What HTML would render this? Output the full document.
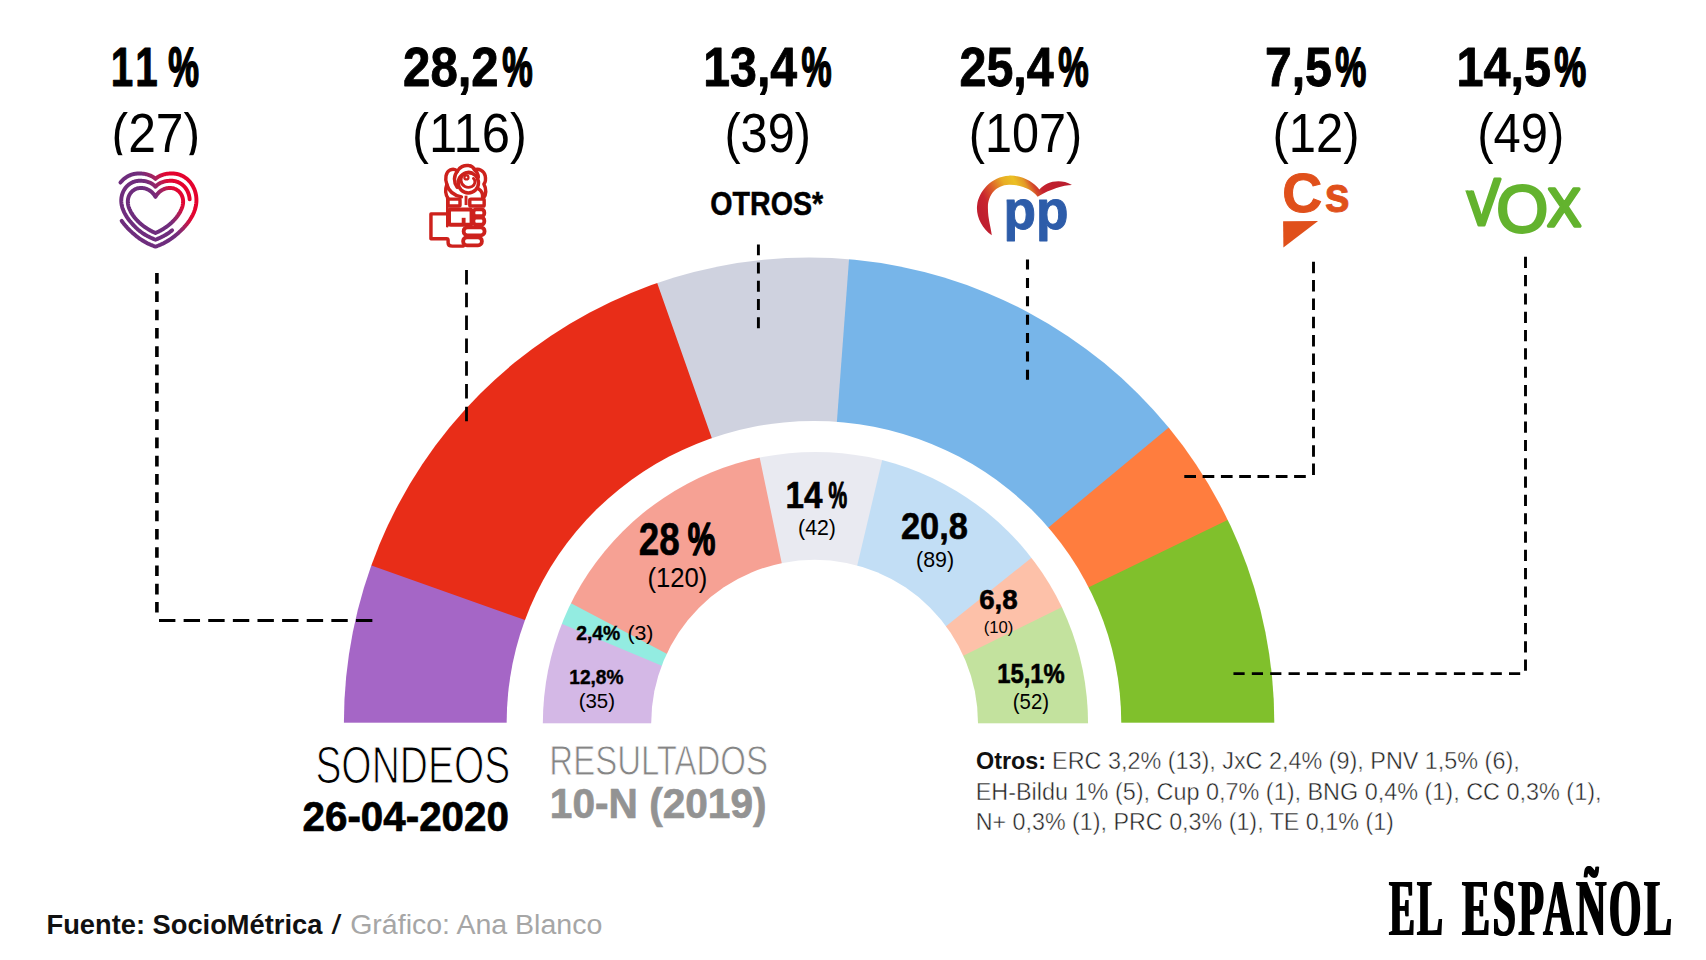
<!DOCTYPE html>
<html lang="es"><head><meta charset="utf-8"><title>Sondeo SocioMétrica 26-04-2020</title>
<style>html,body{margin:0;padding:0;background:#fff}body{width:1706px;height:960px;overflow:hidden}svg{display:block}text{white-space:pre}</style>
</head><body>
<svg width="1706" height="960" viewBox="0 0 1706 960">
<rect width="1706" height="960" fill="#fff"/>
<defs>
<clipPath id="co"><rect x="0" y="0" width="1706" height="722.7"/></clipPath>
<mask id="cc" maskUnits="userSpaceOnUse" x="0" y="0" width="1706" height="960"><circle cx="809.1" cy="722.7" r="465.2" fill="#fff"/></mask>
<clipPath id="ci"><rect x="0" y="0" width="1706" height="723.3"/></clipPath>
<mask id="ce" maskUnits="userSpaceOnUse" x="0" y="0" width="1706" height="960"><ellipse cx="815.45" cy="723.3" rx="272.6" ry="271.4" fill="#fff"/></mask>
<linearGradient id="gh" x1="0" y1="0" x2="1" y2="0"><stop offset="0" stop-color="#6d2c80"/><stop offset="0.42" stop-color="#7a2d7c"/><stop offset="0.62" stop-color="#c0184e"/><stop offset="1" stop-color="#e4032e"/></linearGradient>
<linearGradient id="gp" gradientUnits="userSpaceOnUse" x1="976" y1="210" x2="1072" y2="185"><stop offset="0" stop-color="#c5202f"/><stop offset="0.16" stop-color="#d8452a"/><stop offset="0.36" stop-color="#e8a526"/><stop offset="0.50" stop-color="#e9bb25"/><stop offset="0.62" stop-color="#e08a28"/><stop offset="0.72" stop-color="#d2402c"/><stop offset="1" stop-color="#c01f30"/></linearGradient>
</defs>
<g><g mask="url(#cc)">
<rect x="300" y="200" width="1100" height="600" fill="#A566C6"/>
<polygon points="609.8,650.1 239.7,518.8 124.3,393.1 162.5,323.3 207.8,257.9 259.6,197.6 317.5,143.1 380.8,94.9 448.8,53.5 520.7,19.5 595.8,-6.8 673.2,-25.1 752.1,-35.2 831.6,-37.0 910.9,-30.4 989.1,-15.7 1065.3,7.2 1138.7,37.9 1208.5,76.1 1273.9,121.4 1334.2,173.2 1388.7,231.1 1436.9,294.4 1478.3,362.4 1512.3,434.3 1538.6,509.4 1556.9,586.8 1567.0,665.7 1569.1,722.7 1569.1,782.7 609.8,782.7" fill="#E82D18"/>
<polygon points="741.5,522.4 610.4,150.2 636.3,-17.4 714.6,-31.4 794.0,-37.1 873.5,-34.6 952.3,-23.7 1029.5,-4.6 1104.3,22.4 1175.9,57.1 1243.5,99.1 1306.3,147.9 1363.7,203.0 1414.9,263.8 1459.6,329.7 1497.1,399.8 1527.1,473.5 1549.2,549.9 1563.2,628.2 1568.9,707.6 1569.1,722.7 1569.1,782.7 741.5,782.7" fill="#CFD2DF"/>
<polygon points="830.2,511.4 859.5,119.1 951.1,-23.9 1028.4,-5.0 1103.3,21.9 1174.9,56.5 1242.5,98.4 1305.4,147.1 1362.9,202.2 1414.2,262.9 1459.0,328.7 1496.6,398.8 1526.7,472.4 1548.9,548.8 1563.1,627.1 1568.9,706.4 1569.1,722.7 1569.1,782.7 830.2,782.7" fill="#77B5E9"/>
<polygon points="979.2,585.0 1276.4,338.0 1443.2,303.7 1483.5,372.3 1516.4,444.7 1541.6,520.1 1558.8,597.8 1567.7,676.8 1569.1,722.7 1569.1,782.7 979.2,782.7" fill="#FF7D3E"/>
<polygon points="1007.8,626.4 1353.5,459.0 1524.0,464.7 1547.0,540.8 1562.0,618.9 1568.7,698.2 1569.1,722.7 1569.1,782.7 1007.8,782.7" fill="#80C02C"/>
</g>
<ellipse cx="813.95" cy="722.7" rx="307.3" ry="301.7" fill="#fff"/>
<rect x="300" y="722.7" width="1100" height="100" fill="#fff"/>
</g>
<g><g mask="url(#ce)">
<rect x="500" y="400" width="640" height="400" fill="#D4B8E6"/>
<polygon points="711.9,686.7 488.3,593.1 407.8,509.3 432.4,467.9 461.2,429.3 493.9,393.9 530.1,362.2 569.4,334.4 611.4,310.8 655.6,291.8 701.6,277.5 748.8,268.1 796.8,263.7 844.9,264.3 892.7,269.9 939.7,280.5 985.3,296.0 1029.0,316.1 1070.4,340.7 1109.0,369.5 1144.4,402.2 1176.1,438.4 1203.9,477.7 1227.5,519.7 1246.5,563.9 1260.8,609.9 1270.2,657.1 1274.6,705.1 1275.0,723.3 1275.0,783.3 711.9,783.3" fill="#93ECE1"/>
<polygon points="715.5,679.4 499.8,565.8 427.2,475.9 455.2,436.7 487.1,400.6 522.7,368.1 561.4,339.5 602.9,315.1 646.7,295.2 692.4,279.9 739.4,269.6 787.2,264.1 835.4,263.8 883.3,268.4 930.5,278.0 976.4,292.5 1020.5,311.8 1062.4,335.5 1101.6,363.5 1137.7,395.4 1170.2,431.0 1198.8,469.7 1223.2,511.2 1243.1,555.0 1258.4,600.7 1268.7,647.7 1274.2,695.5 1275.0,723.3 1275.0,783.3 715.5,783.3" fill="#F6A194"/>
<polygon points="792.8,615.9 743.3,379.5 768.7,265.6 816.8,263.3 864.9,266.0 912.4,273.7 958.9,286.4 1003.7,303.8 1046.6,325.8 1086.8,352.2 1124.1,382.7 1158.1,416.8 1188.2,454.4 1214.3,494.9 1236.0,537.9 1253.0,582.9 1265.3,629.4 1272.7,677.0 1275.0,723.3 1275.0,783.3 792.8,783.3" fill="#E9EAF1"/>
<polygon points="844.8,618.1 900.7,381.8 973.0,291.3 1017.3,310.2 1059.4,333.6 1098.8,361.3 1135.1,392.9 1167.8,428.2 1196.8,466.7 1221.5,508.0 1241.8,551.7 1257.4,597.2 1268.1,644.1 1273.9,691.9 1275.0,723.3 1275.0,783.3 844.8,783.3" fill="#C2DEF5"/>
<polygon points="903.9,660.1 1093.9,507.6 1206.3,481.5 1229.4,523.7 1248.0,568.1 1261.9,614.2 1270.8,661.5 1274.8,709.5 1275.0,723.3 1275.0,783.3 903.9,783.3" fill="#FDC1A9"/>
<polygon points="915.7,679.2 1131.5,572.7 1248.8,570.2 1262.4,616.3 1271.1,663.7 1274.9,711.7 1275.0,723.3 1275.0,783.3 915.7,783.3" fill="#C3E29E"/>
</g>
<circle cx="814.6" cy="723.2" r="163.4" fill="#fff"/>
<rect x="300" y="723.3" width="1100" height="100" fill="#fff"/>
</g>
<g>
<line x1="156.90" y1="273.10" x2="156.90" y2="612.60" stroke="#000" stroke-width="3.6" stroke-dasharray="10.70 7.57"/>
<line x1="159.00" y1="620.50" x2="372.40" y2="620.50" stroke="#000" stroke-width="3.2" stroke-dasharray="16.40 8.22"/>
<line x1="466.50" y1="270.00" x2="466.50" y2="421.30" stroke="#000" stroke-width="2.8" stroke-dasharray="14.50 8.30"/>
<line x1="758.40" y1="244.40" x2="758.40" y2="328.20" stroke="#000" stroke-width="2.9" stroke-dasharray="10.90 7.32"/>
<line x1="1027.50" y1="259.50" x2="1027.50" y2="379.80" stroke="#000" stroke-width="3.1" stroke-dasharray="10.00 8.38"/>
<line x1="1313.50" y1="261.70" x2="1313.50" y2="475.00" stroke="#000" stroke-width="2.9" stroke-dasharray="11.50 6.85"/>
<line x1="1305.80" y1="476.50" x2="1184.30" y2="476.50" stroke="#000" stroke-width="2.9" stroke-dasharray="11.70 6.60"/>
<line x1="1525.50" y1="256.80" x2="1525.50" y2="670.90" stroke="#000" stroke-width="2.9" stroke-dasharray="11.20 7.11"/>
<line x1="1520.20" y1="673.60" x2="1233.40" y2="673.60" stroke="#000" stroke-width="2.9" stroke-dasharray="11.20 7.17"/>
</g>
<g>
<text transform="translate(110.67 86.00) scale(0.7276 1)" font-family="'Liberation Sans', sans-serif" font-size="55.61" font-weight="bold" fill="#000" stroke="#000" stroke-width="0.9" stroke-linejoin="round" letter-spacing="6.0">11</text>
<text transform="translate(168.36 86.00) scale(0.6215 1)" font-family="'Liberation Sans', sans-serif" font-size="55.61" font-weight="bold" fill="#000" stroke="#000" stroke-width="1.8" stroke-linejoin="round">%</text>
<text transform="translate(111.56 152.10) scale(0.8961 1)" font-family="'Liberation Sans', sans-serif" font-size="55.61" fill="#000">(27)</text>
<text transform="translate(403.06 86.00) scale(0.8838 1)" font-family="'Liberation Sans', sans-serif" font-size="55.61" font-weight="bold" fill="#000" stroke="#000" stroke-width="0.9" stroke-linejoin="round">28,2</text>
<text transform="translate(502.27 86.00) scale(0.6152 1)" font-family="'Liberation Sans', sans-serif" font-size="55.61" font-weight="bold" fill="#000" stroke="#000" stroke-width="1.8" stroke-linejoin="round">%</text>
<text transform="translate(412.12 152.10) scale(0.9126 1)" font-family="'Liberation Sans', sans-serif" font-size="55.61" fill="#000">(116)</text>
<text transform="translate(703.28 86.00) scale(0.8677 1)" font-family="'Liberation Sans', sans-serif" font-size="55.61" font-weight="bold" fill="#000" stroke="#000" stroke-width="0.9" stroke-linejoin="round">13,4</text>
<text transform="translate(801.57 86.00) scale(0.6089 1)" font-family="'Liberation Sans', sans-serif" font-size="55.61" font-weight="bold" fill="#000" stroke="#000" stroke-width="1.8" stroke-linejoin="round">%</text>
<text transform="translate(724.42 152.10) scale(0.8747 1)" font-family="'Liberation Sans', sans-serif" font-size="55.61" fill="#000">(39)</text>
<text transform="translate(959.59 86.00) scale(0.8695 1)" font-family="'Liberation Sans', sans-serif" font-size="55.61" font-weight="bold" fill="#000" stroke="#000" stroke-width="0.9" stroke-linejoin="round">25,4</text>
<text transform="translate(1058.37 86.00) scale(0.6152 1)" font-family="'Liberation Sans', sans-serif" font-size="55.61" font-weight="bold" fill="#000" stroke="#000" stroke-width="1.8" stroke-linejoin="round">%</text>
<text transform="translate(968.72 152.10) scale(0.8743 1)" font-family="'Liberation Sans', sans-serif" font-size="55.61" fill="#000">(107)</text>
<text transform="translate(1264.89 86.00) scale(0.8668 1)" font-family="'Liberation Sans', sans-serif" font-size="55.61" font-weight="bold" fill="#000" stroke="#000" stroke-width="0.9" stroke-linejoin="round">7,5</text>
<text transform="translate(1335.25 86.00) scale(0.6278 1)" font-family="'Liberation Sans', sans-serif" font-size="55.61" font-weight="bold" fill="#000" stroke="#000" stroke-width="1.8" stroke-linejoin="round">%</text>
<text transform="translate(1272.50 152.10) scale(0.8811 1)" font-family="'Liberation Sans', sans-serif" font-size="55.61" fill="#000">(12)</text>
<text transform="translate(1456.46 86.00) scale(0.8736 1)" font-family="'Liberation Sans', sans-serif" font-size="55.61" font-weight="bold" fill="#000" stroke="#000" stroke-width="0.9" stroke-linejoin="round">14,5</text>
<text transform="translate(1554.24 86.00) scale(0.6466 1)" font-family="'Liberation Sans', sans-serif" font-size="55.61" font-weight="bold" fill="#000" stroke="#000" stroke-width="1.8" stroke-linejoin="round">%</text>
<text transform="translate(1477.20 152.10) scale(0.8811 1)" font-family="'Liberation Sans', sans-serif" font-size="55.61" fill="#000">(49)</text>
<text transform="translate(710.31 214.80) scale(0.8452 1)" font-family="'Liberation Sans', sans-serif" font-size="33.85" font-weight="bold" fill="#000" stroke="#000" stroke-width="0.5">OTROS*</text>
</g>
<rect x="100" y="155.2" width="120" height="14" fill="#fff"/>
<g>
<text transform="translate(638.65 554.50) scale(0.7896 1)" font-family="'Liberation Sans', sans-serif" font-size="46.65" font-weight="bold" fill="#000" stroke="#000" stroke-width="0.6" stroke-linejoin="round">28</text>
<text transform="translate(687.71 554.50) scale(0.6660 1)" font-family="'Liberation Sans', sans-serif" font-size="46.65" font-weight="bold" fill="#000" stroke="#000" stroke-width="1.5" stroke-linejoin="round">%</text>
<text transform="translate(647.50 586.50) scale(0.9117 1)" font-family="'Liberation Sans', sans-serif" font-size="28.16" fill="#000">(120)</text>
<text transform="translate(785.52 507.50) scale(0.8919 1)" font-family="'Liberation Sans', sans-serif" font-size="37.26" font-weight="bold" fill="#000" stroke="#000" stroke-width="0.6" stroke-linejoin="round">14</text>
<text transform="translate(828.47 507.50) scale(0.5621 1)" font-family="'Liberation Sans', sans-serif" font-size="37.26" font-weight="bold" fill="#000" stroke="#000" stroke-width="1.2" stroke-linejoin="round">%</text>
<text transform="translate(798.10 534.70) scale(0.9795 1)" font-family="'Liberation Sans', sans-serif" font-size="21.76" fill="#000">(42)</text>
<text transform="translate(900.93 538.75) scale(0.9390 1)" font-family="'Liberation Sans', sans-serif" font-size="36.62" font-weight="bold" fill="#000" stroke="#000" stroke-width="0.6" stroke-linejoin="round">20,8</text>
<text transform="translate(916.00 567.00) scale(1.0047 1)" font-family="'Liberation Sans', sans-serif" font-size="21.33" fill="#000">(89)</text>
<text transform="translate(979.13 608.75) scale(0.9751 1)" font-family="'Liberation Sans', sans-serif" font-size="28.44" font-weight="bold" fill="#000" stroke="#000" stroke-width="0.6" stroke-linejoin="round">6,8</text>
<text transform="translate(983.72 632.50) scale(0.9767 1)" font-family="'Liberation Sans', sans-serif" font-size="17.07" fill="#000">(10)</text>
<text transform="translate(997.26 683.00) scale(0.8379 1)" font-family="'Liberation Sans', sans-serif" font-size="28.44" font-weight="bold" fill="#000" stroke="#000" stroke-width="0.6" stroke-linejoin="round">15,1%</text>
<text transform="translate(1012.79 709.25) scale(0.9250 1)" font-family="'Liberation Sans', sans-serif" font-size="22.04" fill="#000">(52)</text>
<text transform="translate(576.19 639.60) scale(0.9666 1)" font-family="'Liberation Sans', sans-serif" font-size="20.05" font-weight="bold" fill="#000" stroke="#000" stroke-width="0.4">2,4%</text>
<text transform="translate(627.40 640.00) scale(1.0728 1)" font-family="'Liberation Sans', sans-serif" font-size="19.91" fill="#000">(3)</text>
<text transform="translate(569.31 683.90) scale(0.9804 1)" font-family="'Liberation Sans', sans-serif" font-size="19.48" font-weight="bold" fill="#000" stroke="#000" stroke-width="0.4">12,8%</text>
<text transform="translate(578.64 708.30) scale(1.0213 1)" font-family="'Liberation Sans', sans-serif" font-size="20.05" fill="#000">(35)</text>
</g>
<g>
<text transform="translate(315.38 783.00) scale(0.7568 1)" font-family="'Liberation Sans', sans-serif" font-size="51.48" fill="#000" stroke="#fff" stroke-width="1.1" vector-effect="non-scaling-stroke">SONDEOS</text>
<text transform="translate(302.54 830.50) scale(0.9655 1)" font-family="'Liberation Sans', sans-serif" font-size="41.81" font-weight="bold" fill="#000" stroke="#000" stroke-width="0.7">26-04-2020</text>
<text transform="translate(549.32 774.90) scale(0.7784 1)" font-family="'Liberation Sans', sans-serif" font-size="42.38" fill="#858585" stroke="#fff" stroke-width="0.8" vector-effect="non-scaling-stroke">RESULTADOS</text>
<text transform="translate(549.86 818.30) scale(0.9363 1)" font-family="'Liberation Sans', sans-serif" font-size="43.38" font-weight="bold" fill="#939393" stroke="#939393" stroke-width="0.7">10-N (2019)</text>
</g>
<g>
<text transform="translate(976.07 768.60) scale(0.9604 1)" font-family="'Liberation Sans', sans-serif" font-size="24.32" font-weight="bold" fill="#111">Otros:</text>
<text transform="translate(1052.07 768.60) scale(0.9616 1)" font-family="'Liberation Sans', sans-serif" font-size="24.32" fill="#222" stroke="#fff" stroke-width="0.45" vector-effect="non-scaling-stroke">ERC 3,2% (13), JxC 2,4% (9), PNV 1,5% (6),</text>
<text transform="translate(975.67 799.90) scale(0.9860 1)" font-family="'Liberation Sans', sans-serif" font-size="23.75" fill="#222" stroke="#fff" stroke-width="0.45" vector-effect="non-scaling-stroke">EH-Bildu 1% (5), Cup 0,7% (1), BNG 0,4% (1), CC 0,3% (1),</text>
<text transform="translate(975.68 829.60) scale(0.9806 1)" font-family="'Liberation Sans', sans-serif" font-size="23.75" fill="#222" stroke="#fff" stroke-width="0.45" vector-effect="non-scaling-stroke">N+ 0,3% (1), PRC 0,3% (1), TE 0,1% (1)</text>
</g>
<g>
<text transform="translate(46.49 934.00) scale(0.9940 1)" font-family="'Liberation Sans', sans-serif" font-size="27.45" font-weight="bold" fill="#111">Fuente: SocioMétrica</text>
<text transform="translate(331.60 934.00) scale(1.2953 1)" font-family="'Liberation Sans', sans-serif" font-size="27.45" fill="#111">/</text>
<text transform="translate(350.16 934.20) scale(1.0294 1)" font-family="'Liberation Sans', sans-serif" font-size="27.73" fill="#a6a6a6">Gráfico: Ana Blanco</text>
<g id="logo">
<text transform="translate(1389.10 935.00) scale(0.4818 1)" font-family="'Liberation Serif', serif" font-size="80.00" font-weight="bold" fill="#000" letter-spacing="5.0">EL</text>
<text transform="translate(1462.15 935.00) scale(0.5220 1)" font-family="'Liberation Serif', serif" font-size="80.00" font-weight="bold" fill="#000" letter-spacing="5.0">ESPAÑOL</text>
</g>
<use href="#logo" x="0.9"/><use href="#logo" x="-0.9"/>
</g>
<g transform="translate(110 165) scale(0.09375)" fill="none" stroke="url(#gh2)" stroke-width="42" stroke-linecap="round" stroke-linejoin="round">
<defs><linearGradient id="gh2" gradientUnits="userSpaceOnUse" x1="200" y1="0" x2="494" y2="-176.5"><stop offset="0" stop-color="#6e2d7d"/><stop offset="0.2" stop-color="#752c7b"/><stop offset="0.5" stop-color="#a8215c"/><stop offset="0.78" stop-color="#de0a36"/><stop offset="1" stop-color="#e4032e"/></linearGradient></defs>
<path d="M485.0,340.0 L481.1,333.2 L477.0,326.6 L472.6,320.1 L468.0,313.9 L463.1,307.8 L458.0,302.0 L452.6,296.3 L447.0,290.9 L441.2,285.8 L435.2,280.9 L429.0,276.2 L422.5,271.9 L415.8,267.8 L409.0,264.0 L401.9,260.6 L394.6,257.4 L387.2,254.6 L379.5,252.1 L371.7,250.0 L363.7,248.2 L355.5,246.8 L347.2,245.8 L338.7,245.2 L330.0,245.0 L320.1,245.3 L310.4,246.3 L301.0,247.9 L291.9,250.2 L283.0,253.0 L274.4,256.4 L266.1,260.3 L258.1,264.8 L250.5,269.8 L243.3,275.2 L236.5,281.1 L230.0,287.5 L224.0,294.3 L218.4,301.4 L213.2,309.0 L208.5,316.9 L204.3,325.1 L200.6,333.6 L197.5,342.4 L194.8,351.5 L192.7,360.8 L191.2,370.3 L190.3,380.1 L190.0,390.0 L190.3,400.0 L191.2,410.2 L192.7,420.4 L194.8,430.7 L197.5,441.0 L200.6,451.4 L204.3,461.8 L208.5,472.2 L213.2,482.6 L218.4,493.0 L224.0,503.4 L230.0,513.8 L236.5,524.0 L243.3,534.3 L250.5,544.4 L258.1,554.4 L266.1,564.4 L274.4,574.2 L283.0,583.9 L291.9,593.5 L301.0,602.9 L310.4,612.1 L320.1,621.1 L330.0,630.0 L336.3,635.2 L342.7,640.3 L349.2,645.4 L355.7,650.3 L362.3,655.2 L369.0,659.9 L375.7,664.6 L382.4,669.1 L389.2,673.6 L395.9,677.9 L402.6,682.1 L409.4,686.2 L416.1,690.3 L422.7,694.1 L429.4,697.9 L435.9,701.6 L442.4,705.1 L448.8,708.5 L455.1,711.7 L461.4,714.9 L467.5,717.9 L473.5,720.7 L479.3,723.4 L485.0,726.0 L490.7,723.4 L496.5,720.7 L502.5,717.9 L508.6,714.9 L514.9,711.7 L521.2,708.5 L527.6,705.1 L534.1,701.6 L540.6,697.9 L547.3,694.1 L553.9,690.3 L560.6,686.2 L567.4,682.1 L574.1,677.9 L580.8,673.6 L587.6,669.1 L594.3,664.6 L601.0,659.9 L607.7,655.2 L614.3,650.3 L620.8,645.4 L627.3,640.3 L633.7,635.2 L640.0,630.0 L649.9,621.1 L659.6,612.1 L669.0,602.9 L678.1,593.5 L687.0,583.9 L695.6,574.2 L703.9,564.4 L711.9,554.4 L719.5,544.4 L726.7,534.3 L733.5,524.0 L740.0,513.8 L746.0,503.4 L751.6,493.0 L756.8,482.6 L761.5,472.2 L765.7,461.8 L769.4,451.4 L772.5,441.0 L775.2,430.7 L777.3,420.4 L778.8,410.2 L779.7,400.0 L780.0,390.0 L779.7,380.1 L778.8,370.3 L777.3,360.8 L775.2,351.5 L772.5,342.4 L769.4,333.6 L765.7,325.1 L761.5,316.9 L756.8,309.0 L751.6,301.4 L746.0,294.3 L740.0,287.5 L733.5,281.1 L726.7,275.2 L719.5,269.8 L711.9,264.8 L703.9,260.3 L695.6,256.4 L687.0,253.0 L678.1,250.2 L669.0,247.9 L659.6,246.3 L649.9,245.3 L640.0,245.0 L631.3,245.2 L622.8,245.8 L614.5,246.8 L606.3,248.2 L598.3,250.0 L590.5,252.1 L582.8,254.6 L575.4,257.4 L568.1,260.6 L561.0,264.0 L554.2,267.8 L547.5,271.9 L541.0,276.2 L534.8,280.9 L528.8,285.8 L523.0,290.9 L517.4,296.3 L512.0,302.0 L506.9,307.8 L502.0,313.9 L497.4,320.1 L493.0,326.6 L488.9,333.2 L485.0,340.0 Z"/>
<path d="M849.6,366.3 L848.4,352.7 L846.3,339.3 L843.5,326.1 L839.9,313.1 L835.6,300.5 L830.6,288.1 L824.8,276.1 L818.4,264.6 L811.2,253.5 L803.4,242.8 L795.0,232.8 L785.9,223.2 L776.3,214.3 L766.0,206.1 L755.2,198.5 L743.8,191.7 L731.9,185.7 L719.4,180.4 L706.5,176.1 L693.0,172.6 L679.1,170.1 L664.8,168.5 L650.0,168.0 L641.3,168.1 L632.7,168.5 L624.2,169.0 L615.9,169.8 L607.7,170.8 L599.6,172.1 L591.7,173.6 L583.9,175.3 L576.3,177.2 L568.8,179.3 L561.5,181.7 L554.4,184.2 L547.4,187.0 L540.7,190.1 L534.1,193.3 L527.8,196.7 L521.6,200.4 L515.7,204.3 L510.0,208.4 L504.5,212.7 L499.3,217.2 L494.3,221.9 L489.5,226.9 L485.0,232.0 L480.5,226.9 L475.7,221.9 L470.7,217.2 L465.5,212.7 L460.0,208.4 L454.3,204.3 L448.4,200.4 L442.2,196.7 L435.9,193.3 L429.3,190.1 L422.6,187.0 L415.6,184.2 L408.5,181.7 L401.2,179.3 L393.7,177.2 L386.1,175.3 L378.3,173.6 L370.4,172.1 L362.3,170.8 L354.1,169.8 L345.8,169.0 L337.3,168.5 L328.7,168.1 L320.0,168.0 L305.2,168.5 L290.9,170.1 L277.0,172.6 L263.5,176.1 L250.6,180.4 L238.1,185.7 L226.2,191.7 L214.8,198.5 L204.0,206.1 L193.7,214.3 L184.1,223.2 L175.0,232.8 L166.6,242.8 L158.8,253.5 L151.6,264.6 L145.2,276.1 L139.4,288.1 L134.4,300.5 L130.1,313.1 L126.5,326.1 L123.7,339.3 L121.6,352.7 L120.4,366.3 L120.0,380.0 L120.4,393.7 L121.6,407.5 L123.6,421.2 L126.4,434.9 L129.9,448.6 L134.1,462.2 L138.9,475.8 L144.4,489.3 L150.6,502.7 L157.3,516.1 L164.6,529.3 L172.5,542.5 L180.9,555.6 L189.8,568.5 L199.1,581.4 L208.9,594.1 L219.1,606.6 L229.7,619.1 L240.6,631.3 L251.9,643.4 L263.6,655.4 L275.5,667.1 L287.6,678.6 L300.0,690.0 L307.6,696.4 L315.2,702.6 L322.9,708.7 L330.7,714.5 L338.6,720.2 L346.5,725.7 L354.4,731.0 L362.4,736.2 L370.4,741.2 L378.4,746.0 L386.4,750.6 L394.4,755.1 L402.3,759.5 L410.2,763.6 L418.1,767.6 L425.9,771.5 L433.7,775.2 L441.3,778.7 L448.9,782.1 L456.4,785.4 L463.7,788.5 L471.0,791.5 L478.0,794.3 L485.0,797.0 L492.0,794.3 L499.0,791.5 L506.3,788.5 L513.6,785.4 L521.1,782.1 L528.7,778.7 L536.3,775.2 L544.1,771.5 L551.9,767.6 L559.8,763.6 L567.7,759.5 L575.6,755.1 L583.6,750.6 L591.6,746.0 L599.6,741.2 L607.6,736.2 L615.6,731.0 L623.5,725.7 L631.4,720.2 L639.3,714.5 L647.1,708.7 L654.8,702.6 L662.4,696.4"/>
<path d="M111.5,187.7 L122.8,174.4 L134.8,161.8 L147.6,150.1 L161.2,139.3 L175.4,129.4 L190.3,120.6 L205.8,112.7 L221.9,106.0 L238.5,100.3 L255.7,95.9 L273.3,92.6 L291.5,90.7 L310.0,90.0 L318.7,90.1 L327.4,90.4 L336.0,90.9 L344.5,91.7 L352.9,92.6 L361.2,93.7 L369.5,95.1 L377.6,96.6 L385.6,98.3 L393.4,100.3 L401.2,102.4 L408.8,104.8 L416.2,107.3 L423.4,110.0 L430.5,112.9 L437.4,116.1 L444.1,119.4 L450.6,122.9 L456.9,126.6 L463.0,130.5 L468.9,134.6 L474.5,138.9 L479.9,143.3 L485.0,148.0 L490.1,143.3 L495.5,138.9 L501.1,134.6 L507.0,130.5 L513.1,126.6 L519.4,122.9 L525.9,119.4 L532.6,116.1 L539.5,112.9 L546.6,110.0 L553.8,107.3 L561.2,104.8 L568.8,102.4 L576.6,100.3 L584.4,98.3 L592.4,96.6 L600.5,95.1 L608.8,93.7 L617.1,92.6 L625.5,91.7 L634.0,90.9 L642.6,90.4 L651.3,90.1 L660.0,90.0 L678.5,90.7 L696.7,92.6 L714.3,95.9 L731.5,100.3 L748.1,106.0 L764.2,112.7 L779.7,120.6 L794.6,129.4 L808.8,139.3 L822.4,150.1 L835.2,161.8 L847.2,174.4 L858.5,187.7 L869.0,201.9 L878.7,216.7 L887.4,232.2 L895.3,248.4 L902.2,265.1 L908.1,282.3 L913.0,300.1 L916.9,318.3 L919.7,336.8 L921.4,355.8 L922.0,375.0 L921.5,393.0 L919.9,410.9 L917.4,428.6 L913.9,446.2 L909.5,463.5 L904.2,480.7 L898.1,497.7 L891.1,514.4 L883.4,531.0 L875.0,547.4 L865.8,563.5 L856.0,579.4 L845.6,595.0 L834.5,610.5 L823.0,625.6 L810.9,640.6 L798.3,655.2 L785.3,669.6 L771.9,683.7 L758.1,697.6 L744.0,711.1 L729.6,724.4 L714.9,737.3 L700.0,750.0 L691.2,757.2 L682.3,764.2 L673.3,771.0 L664.3,777.6 L655.2,784.1 L646.0,790.4 L636.8,796.5 L627.6,802.4 L618.3,808.2 L609.1,813.7 L599.9,819.1 L590.6,824.2 L581.4,829.2 L572.3,834.0 L563.1,838.5 L554.1,842.9 L545.1,847.0 L536.2,851.0 L527.4,854.7 L518.6,858.2 L510.0,861.5 L501.5,864.5 L493.2,867.4 L485.0,870.0 L476.8,867.4 L468.5,864.5 L460.0,861.5 L451.4,858.2 L442.6,854.7 L433.8,851.0 L424.9,847.0 L415.9,842.9 L406.9,838.5 L397.7,834.0 L388.6,829.2 L379.4,824.2 L370.1,819.1 L360.9,813.7 L351.7,808.2 L342.4,802.4 L333.2,796.5 L324.0,790.4 L314.8,784.1 L305.7,777.6 L296.7,771.0 L287.7,764.2 L278.8,757.2 L270.0,750.0 L255.1,737.3 L240.4,724.4 L226.0,711.1 L211.9,697.6 L198.1,683.7 L184.7,669.6 L171.7,655.2 L159.1,640.6 L147.0,625.6 L135.5,610.5 L124.4,595.0"/>
</g>
<g transform="translate(425 160) scale(0.09589)" fill="none" stroke="#cd211c" stroke-width="36" stroke-linejoin="round" stroke-linecap="round">
<path d="M232,562 L62,562 L62,822 L226,822 Q241,822 241,840 L241,862 Q241,898 285,898 L400,898"/>
<rect x="240" y="408" width="125" height="72" rx="10"/>
<rect x="467" y="408" width="150" height="72" rx="12"/>
<path d="M428,372 L428,470" stroke-width="30" stroke-linecap="butt"/>
<rect x="250" y="517" width="236" height="158" rx="20" stroke-width="42"/>
<path d="M403,603 L403,677" stroke-width="40" stroke-linecap="butt"/>
<path d="M232,400 L232,690" stroke-width="26"/>
<rect x="505" y="515" width="113" height="72" rx="30" stroke-width="40"/>
<rect x="505" y="601" width="113" height="74" rx="30" stroke-width="40"/>
<rect x="403" y="702" width="218" height="84" rx="40" stroke-width="40"/>
<rect x="398" y="806" width="195" height="84" rx="40" stroke-width="40"/>
<path d="M240,398 C212,360 212,300 228,255 C205,200 215,125 265,102 C295,90 322,100 337,118 C355,75 410,50 455,58 C490,62 510,85 517,102 C560,85 615,110 628,165 C636,205 628,235 614,252 C642,300 640,365 610,398"/>
<circle cx="452" cy="238" r="106"/>
<path d="M337,118 C300,160 295,230 335,285"/>
<path d="M228,255 C245,320 300,368 380,385"/>
<path d="M517,102 C540,120 555,150 556,180"/>
<path d="M556,300 C590,320 605,350 600,390"/>
<path d="M486,132 C436,110 372,150 376,215 C380,272 440,302 490,276 C526,256 530,212 505,192" stroke-width="30"/>
<circle cx="432" cy="182" r="21" stroke-width="24"/>
</g>
<g transform="translate(960 160) scale(0.1041667)">
<defs><linearGradient id="gp2" gradientUnits="userSpaceOnUse" x1="200" y1="500" x2="1000" y2="100"><stop offset="0" stop-color="#c01f2f"/><stop offset="0.10" stop-color="#c8242e"/><stop offset="0.22" stop-color="#dc5c2a"/><stop offset="0.36" stop-color="#e8ad25"/><stop offset="0.47" stop-color="#ebc024"/><stop offset="0.56" stop-color="#e39a27"/><stop offset="0.63" stop-color="#d4492b"/><stop offset="0.70" stop-color="#c4222e"/><stop offset="1" stop-color="#b81d2e"/></linearGradient></defs>
<path fill="url(#gp2)" d="M305,722 C205,655 150,530 165,430 C182,300 300,158 470,150 C590,145 700,205 762,282 C825,215 950,170 1075,240 C990,242 872,278 745,352 C700,292 600,235 470,238 C345,242 270,335 268,450 C266,560 298,650 305,722 Z"/>
</g>
<text transform="translate(1003.58 228.67) scale(0.9670 1)" font-family="'Liberation Sans', sans-serif" font-size="54.99" font-weight="bold" fill="#2d5ca9" stroke="#2d5ca9" stroke-width="1.0" stroke-linejoin="round">pp</text>
<text transform="translate(1282.17 211.74) scale(1.0022 1)" font-family="'Liberation Sans', sans-serif" font-size="55.10" font-weight="bold" fill="#e0501b" stroke="#e0501b" stroke-width="1.0">C</text>
<text transform="translate(1324.57 211.92) scale(0.9133 1)" font-family="'Liberation Sans', sans-serif" font-size="49.96" font-weight="bold" fill="#e0501b" stroke="#e0501b" stroke-width="0.8">s</text>
<polygon points="1283.1,221.3 1318.1,220.9 1283.4,247.5" fill="#e0501b"/>
<defs><clipPath id="cv"><polygon points="1440,190.5 1482,190.5 1482,170 1520,170 1520,240 1440,240"/></clipPath></defs>
<g clip-path="url(#cv)">
<text transform="translate(1462.50 225.20) scale(0.8638 1)" font-family="'Liberation Sans', sans-serif" font-size="65.99" fill="#63b32e" stroke="#63b32e" stroke-width="3.2" stroke-linejoin="round">V</text>
</g>
<text transform="translate(1496.16 231.54) scale(0.9895 1)" font-family="'Liberation Sans', sans-serif" font-size="67.62" fill="#63b32e" stroke="#63b32e" stroke-width="2.8" stroke-linejoin="round">O</text>
<text transform="translate(1547.21 225.80) scale(0.9512 1)" font-family="'Liberation Sans', sans-serif" font-size="53.33" fill="#63b32e" stroke="#63b32e" stroke-width="3.4" stroke-linejoin="round">X</text>
</svg>
</body></html>
